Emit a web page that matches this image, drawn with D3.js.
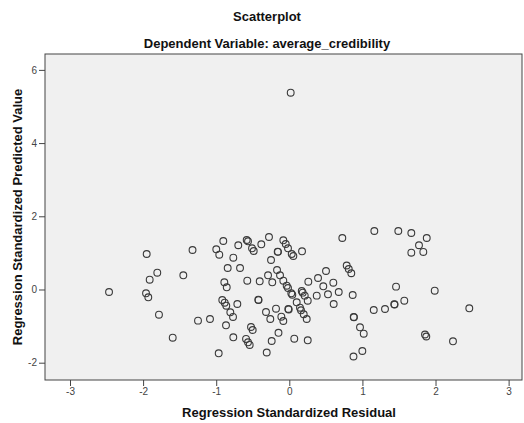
<!DOCTYPE html>
<html>
<head>
<meta charset="utf-8">
<script src="https://cdn.jsdelivr.net/npm/d3@7"></script>
<style>
    body { margin: 0; background: #ffffff; }
    .axis text { font-family: "Liberation Sans", Arial, sans-serif; font-size: 10px; fill: #444; }
    .axis path { display: none; }
    .axis line { stroke: #444; }
    .chart-title, .axis-label { font-family: "Liberation Sans", Arial, sans-serif; font-weight: bold; font-size: 13px; fill: #111; }
</style>
</head>
<body>
<div id="scatter-area"></div>
<script>

/*
 *  Data
 *  residual = Regression Standardized Residual, predicted = Regression Standardized Predicted Value
 */
var residual = [
    -1.951, -1.324, -0.903, -0.999, -0.958, -0.698, -0.766, -0.583, -0.565, -0.510,
    -0.487, -0.383, -0.278, -0.250, -0.159, -0.155, -0.082, -0.049, -0.018, 0.033,
    0.055, 0.174, 0.725, -0.843, -0.674, -0.168, 0.502, 0.785, 0.813, 0.848,
    1.163, 1.491, 1.669, 1.880, 1.774, 1.669, 1.833, -2.466, -1.806, -1.910,
    -1.450, -1.960, -1.929, -1.783, -1.249, -1.595, -0.889, -0.856, -0.575, -0.405,
    -0.291, -0.233, -0.127, -0.082, -0.036, -0.018, 0.027, 0.041, 0.170, 0.183,
    0.211, 0.252, 0.260, 0.393, 0.465, 0.602, 0.375, 0.529, 0.676, 0.607,
    -0.917, -0.884, -0.862, -0.711, -0.424, -0.421, -0.807, -0.770, -1.085, -0.866,
    -0.319, -0.260, -0.182, -0.014, -0.008, 0.101, 0.146, 0.160, 0.197, 0.238,
    -0.109, -0.082, -0.524, -0.501, -0.148, -0.766, -0.592, -0.565, -0.542, -0.241,
    0.068, 0.252, -0.966, -0.309, 0.867, 1.460, 1.989, 1.573, 1.436, 1.440,
    1.309, 1.155, 2.462, 0.881, 0.884, 0.967, 1.018, 1.856, 1.874, 2.239,
    0.999, 0.878, 0.019
];

var predicted = [
    0.970, 1.079, 1.325, 1.098, 0.951, 1.208, 0.869, 1.352, 1.317, 1.126,
    1.052, 1.235, 1.434, 0.806, 1.033, 1.028, 1.344, 1.243, 1.126, 0.970,
    0.915, 1.044, 1.407, 0.587, 0.587, 0.533, 0.505, 0.656, 0.560, 0.443,
    1.598, 1.598, 1.544, 1.407, 1.208, 1.005, 1.025, -0.068, 0.459, 0.268,
    0.388, -0.104, -0.213, -0.689, -0.852, -1.317, 0.197, 0.060, 0.240, 0.224,
    0.388, 0.197, 0.388, 0.240, 0.104, 0.041, -0.104, -0.142, -0.041, -0.087,
    -0.169, -0.306, 0.213, 0.314, 0.087, 0.186, -0.169, -0.131, -0.068, -0.396,
    -0.287, -0.361, -0.443, -0.396, -0.279, -0.290, -0.623, -0.751, -0.806, -0.978,
    -0.615, -0.806, -0.525, -0.533, -0.546, -0.350, -0.497, -0.568, -0.678, -0.806,
    -0.743, -0.861, -1.025, -1.107, -1.183, -1.306, -1.352, -1.443, -1.516, -1.407,
    -1.344, -1.388, -1.743, -1.721, -0.150, 0.077, -0.033, -0.306, -0.404, -0.412,
    -0.533, -0.560, -0.514, -0.751, -0.760, -1.033, -1.208, -1.230, -1.284, -1.415,
    -1.680, -1.831, 5.377
];

var xTickValues = [-3, -2, -1, 0, 1, 2, 3];
var yTickValues = [-2, 0, 2, 4, 6];

var chartTitle = "Scatterplot";
var chartSubtitle = "Dependent Variable: average_credibility";
var xTitle = "Regression Standardized Residual";
var yTitle = "Regression Standardized Predicted Value";


/*
 *  Drawing area
 */
var margin = { top: 54, right: 2, bottom: 43, left: 45 };
var width = 524 - margin.left - margin.right;
var height = 423 - margin.top - margin.bottom;

var svg = d3.select("#scatter-area").append("svg")
    .attr("width", 524)
    .attr("height", 423);

var vis = svg.append("g")
    .attr("transform", "translate(" + margin.left + "," + margin.top + ")");

// Scales (domain edges match where the SPSS frame cuts off)
var x = d3.scaleLinear()
    .domain([-3.342, 3.183])
    .range([0, width]);

var y = d3.scaleLinear()
    .domain([-2.473, 6.434])
    .range([height, 0]);

// plot background + frame
vis.append("rect")
    .attr("x", 0)
    .attr("y", 0)
    .attr("width", width)
    .attr("height", height)
    .attr("fill", "#f0f0f0")
    .attr("stroke", "#444")
    .attr("stroke-width", 1);

// SPSS prints a plain hyphen, not the unicode minus
var plainNum = function(d) { return String(d); };

// Axes
var xAxis = d3.axisBottom(x)
    .tickValues(xTickValues)
    .tickFormat(plainNum)
    .tickSize(6)
    .tickPadding(2);

var yAxis = d3.axisLeft(y)
    .tickValues(yTickValues)
    .tickFormat(plainNum)
    .tickSize(6)
    .tickPadding(2);

vis.append("g")
    .attr("class", "x-axis axis")
    .attr("transform", "translate(0," + height + ")")
    .call(xAxis);

vis.append("g")
    .attr("class", "y-axis axis")
    .call(yAxis);

// Points
var points = residual.map(function(d, i) {
    return { res: d, pred: predicted[i] };
});

vis.selectAll(".dot")
    .data(points)
    .enter().append("circle")
    .attr("class", "dot")
    .attr("cx", function(d) { return x(d.res); })
    .attr("cy", function(d) { return y(d.pred); })
    .attr("r", 3.4)
    .attr("fill", "none")
    .attr("stroke", "#3a3a3a")
    .attr("stroke-width", 1.1);

// Titles
svg.append("text")
    .attr("class", "chart-title")
    .attr("x", 267)
    .attr("y", 21)
    .style("text-anchor", "middle")
    .text(chartTitle);

svg.append("text")
    .attr("class", "chart-title")
    .attr("x", 267)
    .attr("y", 48)
    .style("text-anchor", "middle")
    .text(chartSubtitle);

svg.append("text")
    .attr("class", "axis-label")
    .attr("x", 289)
    .attr("y", 417)
    .style("text-anchor", "middle")
    .text(xTitle);

svg.append("text")
    .attr("class", "axis-label")
    .attr("transform", "translate(22," + (margin.top + height / 2) + ") rotate(270)")
    .style("text-anchor", "middle")
    .text(yTitle);

</script>
</body>
</html>
